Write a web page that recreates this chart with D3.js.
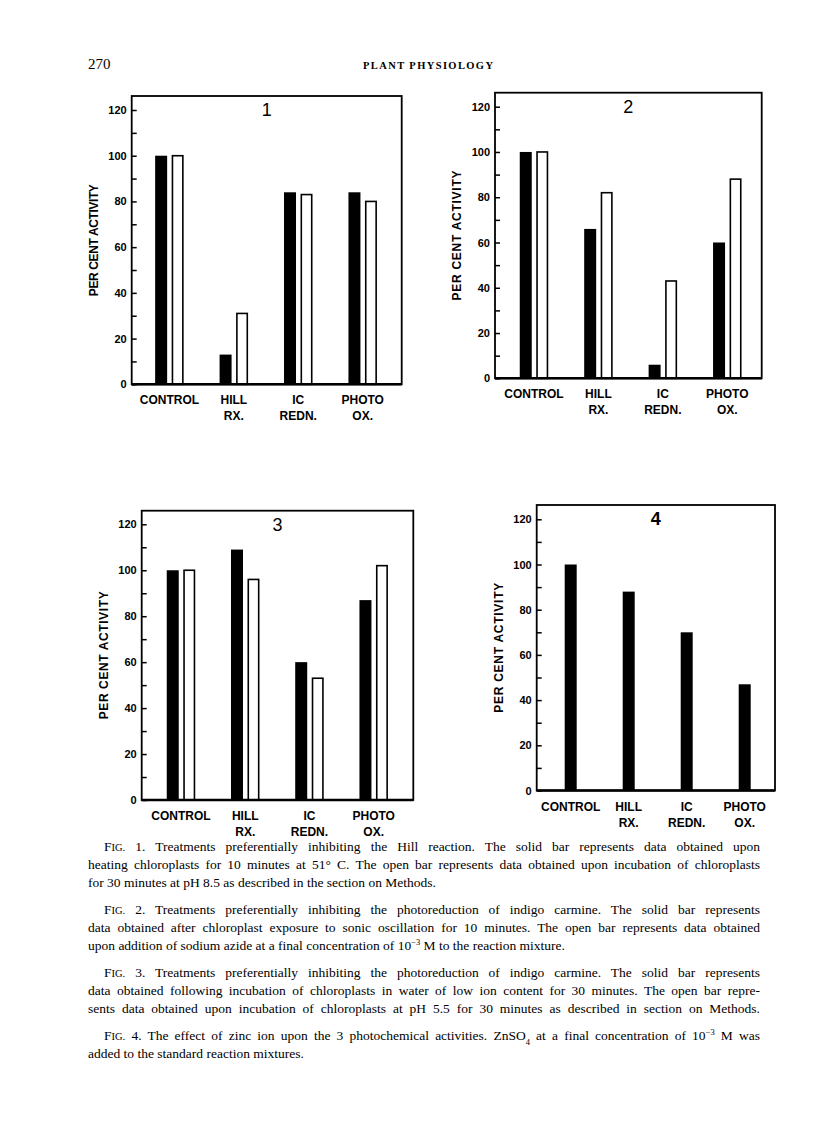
<!DOCTYPE html>
<html><head><meta charset="utf-8">
<script src="https://cdn.jsdelivr.net/npm/d3@7"></script>
<style>body{margin:0;background:#fff} svg{display:block}</style>
</head><body>
<svg id="page" width="816" height="1123"></svg>
<script>
// ---------- data ----------
const catLine1 = ["CONTROL", "HILL", "IC", "PHOTO"];
const catLine2 = ["", "RX.", "REDN.", "OX."];
const categories = ["CONTROL", "HILL RX.", "IC REDN.", "PHOTO OX."];

const fig1Solid = [100, 13, 84, 84];
const fig1Open  = [100, 31, 83, 80];
const fig2Solid = [100, 66, 6, 60];
const fig2Open  = [100, 82, 43, 88];
const fig3Solid = [100, 109, 60, 87];
const fig3Open  = [100, 96, 53, 102];
const fig4Solid = [100, 88, 70, 47];

const yTickValues = [0, 10, 20, 30, 40, 50, 60, 70, 80, 90, 100, 110, 120];
const yTickLabels = [0, 20, 40, 60, 80, 100, 120];
const yTitle = "PER CENT ACTIVITY";

const pageNumber = "270";
const runningHead = "PLANT PHYSIOLOGY";

// caption lines (segments: plain, small caps, sup, sub)
const captionLines = [
  [["F"],["IG.","sc"],[" 1. Treatments preferentially inhibiting the Hill reaction. The solid bar represents data obtained upon"]],
  [["heating chloroplasts for 10 minutes at 51° C. The open bar represents data obtained upon incubation of chloroplasts"]],
  [["for 30 minutes at pH 8.5 as described in the section on Methods."]],
  [["F"],["IG.","sc"],[" 2. Treatments preferentially inhibiting the photoreduction of indigo carmine. The solid bar represents"]],
  [["data obtained after chloroplast exposure to sonic oscillation for 10 minutes. The open bar represents data obtained"]],
  [["upon addition of sodium azide at a final concentration of 10"],["−3","sup"],[" M to the reaction mixture."]],
  [["F"],["IG.","sc"],[" 3. Treatments preferentially inhibiting the photoreduction of indigo carmine. The solid bar represents"]],
  [["data obtained following incubation of chloroplasts in water of low ion content for 30 minutes. The open bar repre-"]],
  [["sents data obtained upon incubation of chloroplasts at pH 5.5 for 30 minutes as described in section on Methods."]],
  [["F"],["IG.","sc"],[" 4. The effect of zinc ion upon the 3 photochemical activities. ZnSO"],["4","sub"],[" at a final concentration of 10"],["−3","sup"],[" M was"]],
  [["added to the standard reaction mixtures."]]
];

// ---------- layout ----------
const captionLayout = [
  {y:851, indent:true, justify:true},
  {y:869, indent:false, justify:true},
  {y:887, indent:false, justify:false},
  {y:914, indent:true, justify:true},
  {y:932, indent:false, justify:true},
  {y:950, indent:false, justify:false},
  {y:977, indent:true, justify:true},
  {y:995, indent:false, justify:true},
  {y:1013, indent:false, justify:true},
  {y:1040, indent:true, justify:true},
  {y:1058, indent:false, justify:false}
];
const capLeft = 88, capRight = 760, capIndent = 16;

const panels = [
  {num:"1", solid:fig1Solid, open:fig1Open, x0:131.7, x1:401.7, top:96,    base:384.3, y120:110,   c0:169.4, c1:362.7, tLen:112},
  {num:"2", solid:fig2Solid, open:fig2Open, x0:495,   x1:761.7, top:92.7,  base:378.3, y120:106.7, c0:534,   c1:727.3, tLen:130},
  {num:"3", solid:fig3Solid, open:fig3Open, x0:141.7, x1:413.3, top:510.7, base:800,   y120:524.3, c0:181,   c1:373.7, tLen:128},
  {num:"4", solid:fig4Solid, open:null,     x0:536.7, x1:775,   top:505,   base:790.5, y120:519.3, c0:570.7, c1:744.7, tLen:130}
];

const svg = d3.select("#page");
const SANS = "'Liberation Sans', Arial, sans-serif";
const SERIF = "'Liberation Serif', 'Times New Roman', serif";

// header
svg.append("text").attr("x", 88).attr("y", 69).attr("font-family", SERIF)
  .attr("font-size", 15).text(pageNumber);
svg.append("text").attr("x", 363).attr("y", 69).attr("font-family", SERIF)
  .attr("font-size", 10.5).attr("font-weight", "bold").attr("textLength", 130)
  .attr("lengthAdjust", "spacing").text(runningHead);

// panels
panels.forEach(p => {
  const g = svg.append("g");
  const y = d3.scaleLinear().domain([0, 120]).range([p.base, p.y120]);
  const x = d3.scalePoint().domain(categories).range([p.c0, p.c1]);
  const bw = 12, gap = 4.5;

  // bars
  if (p.open) {
    g.selectAll("rect.solid").data(p.solid).join("rect")
      .attr("x", (d, i) => x(categories[i]) - gap / 2 - bw)
      .attr("y", d => y(d)).attr("width", bw).attr("height", d => y(0) - y(d))
      .attr("fill", "#000");
    g.selectAll("rect.open").data(p.open).join("rect").attr("class", "open")
      .attr("x", (d, i) => x(categories[i]) + gap / 2 + 0.8)
      .attr("y", d => y(d)).attr("width", bw - 1.6).attr("height", d => y(0) - y(d))
      .attr("fill", "#fff").attr("stroke", "#000").attr("stroke-width", 1.6);
  } else {
    g.selectAll("rect.solid").data(p.solid).join("rect")
      .attr("x", (d, i) => x(categories[i]) - bw / 2)
      .attr("y", d => y(d)).attr("width", bw).attr("height", d => y(0) - y(d))
      .attr("fill", "#000");
  }

  // frame
  g.append("rect").attr("x", p.x0).attr("y", p.top)
    .attr("width", p.x1 - p.x0).attr("height", p.base - p.top)
    .attr("fill", "none").attr("stroke", "#000").attr("stroke-width", 1.8);
  g.append("line").attr("x1", p.x0).attr("x2", p.x1).attr("y1", p.base).attr("y2", p.base)
    .attr("stroke", "#000").attr("stroke-width", 2.6);

  // y axis
  const ax = g.append("g").attr("transform", `translate(${p.x0},0)`)
    .call(d3.axisLeft(y).tickValues(yTickValues).tickSize(-5).tickPadding(5)
      .tickFormat(d => yTickLabels.includes(d) ? d : ""));
  ax.select(".domain").remove();
  ax.selectAll(".tick line").attr("stroke", "#000").attr("stroke-width", 1.5);
  ax.selectAll(".tick text").attr("font-family", SANS).attr("font-weight", "bold")
    .attr("font-size", 11).attr("fill", "#000");

  // y title
  g.append("text")
    .attr("transform", `translate(${p.x0 - 34},${(p.top + p.base) / 2}) rotate(-90)`)
    .attr("text-anchor", "middle").attr("font-family", SANS).attr("font-weight", "bold")
    .attr("font-size", 12).attr("textLength", p.tLen).attr("lengthAdjust", "spacing")
    .text(yTitle);

  // category labels
  g.selectAll("text.c1").data(catLine1).join("text")
    .attr("x", (d, i) => x(categories[i])).attr("y", p.base + 20)
    .attr("text-anchor", "middle").attr("font-family", SANS).attr("font-weight", "bold")
    .attr("font-size", 12).text(d => d);
  g.selectAll("text.c2").data(catLine2).join("text")
    .attr("x", (d, i) => x(categories[i])).attr("y", p.base + 36)
    .attr("text-anchor", "middle").attr("font-family", SANS).attr("font-weight", "bold")
    .attr("font-size", 12).text(d => d);

  // panel number
  g.append("text").attr("x", (p.x0 + p.x1) / 2).attr("y", p.top + 20)
    .attr("text-anchor", "middle").attr("font-family", SANS)
    .attr("font-weight", p.num === "4" ? "bold" : "normal")
    .attr("font-size", 18).text(p.num);
});

// captions
captionLines.forEach((segs, i) => {
  const L = captionLayout[i];
  const x0 = capLeft + (L.indent ? capIndent : 0);
  const t = svg.append("text").attr("x", x0).attr("y", L.y)
    .attr("font-family", SERIF).attr("font-size", 13.5).attr("fill", "#000");
  segs.forEach(s => {
    const ts = t.append("tspan").text(s[0]);
    if (s[1] === "sc") ts.attr("font-size", 10.5);
    if (s[1] === "sup") { ts.attr("font-size", 8.5).attr("baseline-shift", "super"); }
    if (s[1] === "sub") { ts.attr("font-size", 8.5).attr("baseline-shift", "sub"); }
  });
  const len = t.node().getComputedTextLength();
  const target = capRight - x0;
  if (len > target) {
    t.attr("textLength", target).attr("lengthAdjust", "spacingAndGlyphs");
  } else if (L.justify) {
    const spaces = segs.map(s => s[0]).join("").split(" ").length - 1;
    if (spaces > 0) t.attr("word-spacing", (target - len) / spaces);
  }
});
</script>
</body></html>
